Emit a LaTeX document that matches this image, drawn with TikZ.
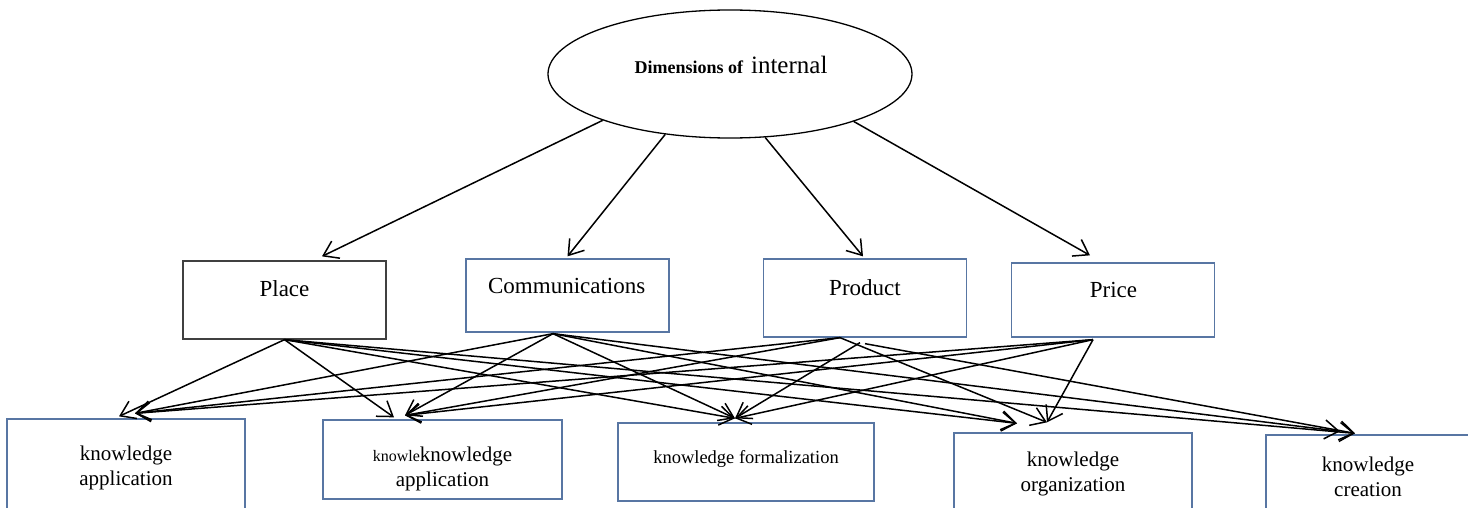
\documentclass[tikz,border=0pt]{standalone}
\usepackage{fontspec}
\setmainfont{Liberation Serif}
\usetikzlibrary{calc,arrows.meta,shapes.geometric}
\definecolor{boxblue}{RGB}{88,118,163}
\definecolor{boxgray}{RGB}{64,64,64}

\begin{document}
\begin{tikzpicture}[x=1pt,y=-1pt,
    topbox/.style={draw=boxblue,line width=1.3pt,inner sep=0pt,minimum width=203pt},
    lowbox/.style={draw=boxblue,line width=1.3pt,inner sep=0pt},
    toptext/.style={anchor=base,font=\fontsize{23}{27}\selectfont},
    lowtext/.style={align=center,font=\fontsize{21}{25.5}\selectfont},
    link/.style={line width=1.5pt,-{Straight Barb[length=14pt,width=19pt]}}]
  \useasboundingbox (0,0) rectangle (1468,508);
  \path[clip] (0,0) rectangle (1468,508);

  % ellipse on top
  \node[draw,ellipse,line width=1.3pt,minimum width=364pt,minimum height=128pt] (dim) at (730,74) {};
  \node[anchor=base] (dimtxt) at (731,73.3)
    {\fontsize{18}{20}\selectfont\bfseries Dimensions of\hspace{8pt}\mdseries\fontsize{25}{28}\selectfont internal};

  % the four boxes of the middle row
  \node[topbox,draw=boxgray,minimum height=78pt] (place) at (284.5,300) {};
  \node[topbox,minimum height=73pt] (comm) at (567.5,295.5) {};
  \node[topbox,minimum height=78pt] (product) at (865,298) {};
  \node[topbox,minimum height=74pt] (price) at (1113,300) {};
  \node[toptext] (placetxt) at (284.5,296.7) {Place};
  \node[toptext] (commtxt) at (566.7,293.3) {Communications};
  \node[toptext] (producttxt) at (865,295) {Product};
  \node[toptext] (pricetxt) at (1113.5,297.7) {Price};

  % the five boxes of the bottom row
  \node[lowbox,minimum width=238pt,minimum height=111pt] (app1) at (126,474.5) {};
  \node[lowbox,minimum width=239pt,minimum height=79pt] (app2) at (442.5,459.5) {};
  \node[lowbox,minimum width=256pt,minimum height=78pt] (form) at (746,462) {};
  \node[lowbox,minimum width=238pt,minimum height=97pt] (org) at (1073,481.5) {};
  \node[lowbox,minimum width=204pt,minimum height=95pt] (create) at (1368,482.5) {};
  \node[lowtext] (app1txt) at (126,468) {knowledge\\application};
  \node[lowtext] (app2txt) at (442.5,469) {{\fontsize{16}{18}\selectfont knowle}knowledge\\application};
  \node[lowtext,font=\fontsize{18.5}{22}\selectfont] (formtxt) at (746,458.5) {knowledge formalization};
  \node[lowtext] (orgtxt) at (1073,474) {knowledge\\organization};
  \node[lowtext] (createtxt) at (1368,477) {knowledge\\creation};

  % ellipse to middle row
  \draw[link] (dim.200) -- ($(place.north)+(37.5,-4)$);
  \draw[link] (dim.223) -- ($(comm.north)+(0,-2)$);
  \draw[link] (dim.299) -- ($(product.north)+(-2,-2)$);
  \draw[link] (dim.339) -- ($(price.north)+(-23,-7)$);

  % ends of the lower arrows
  \coordinate (placeout) at (place.south);
  \coordinate (commout) at ($(comm.south)+(-14.5,1)$);
  \coordinate (prodoutL) at ($(product.south)+(-25,0)$);
  \coordinate (prodoutM) at ($(product.south)+(-5,5)$);
  \coordinate (prodoutR) at ($(product.south)+(0,6)$);
  \coordinate (priceout) at ($(price.south)+(-20,2)$);
  \coordinate (app1inA) at ($(app1.north)+(-7,-2)$);
  \coordinate (app1inB) at ($(app1.north)+(9,-5)$);
  \coordinate (app2inA) at ($(app2.north)+(-48.5,-2)$);
  \coordinate (app2inB) at ($(app2.north)+(-37.5,-4)$);
  \coordinate (forminA) at ($(form.north)+(-11,-4)$);
  \coordinate (orginA) at ($(org.north)+(-56,-9)$);
  \coordinate (orginB) at ($(org.north)+(-26,-10)$);
  \coordinate (createinA) at ($(create.north)+(-28,-3)$);
  \coordinate (createinB) at ($(create.north)+(-13,-1)$);

  \foreach \src/\dst in {placeout/app1inA, placeout/app2inA, placeout/forminA,
      placeout/orginA, placeout/createinB,
      commout/app1inB, commout/app2inB, commout/forminA, commout/orginA, commout/createinA,
      prodoutL/app1inB, prodoutL/app2inB, prodoutM/forminA, prodoutL/orginB, prodoutR/createinB,
      priceout/app1inB, priceout/app2inB, priceout/forminA, priceout/orginB}
    \draw[link] (\src) -- (\dst);
\end{tikzpicture}
\end{document}
